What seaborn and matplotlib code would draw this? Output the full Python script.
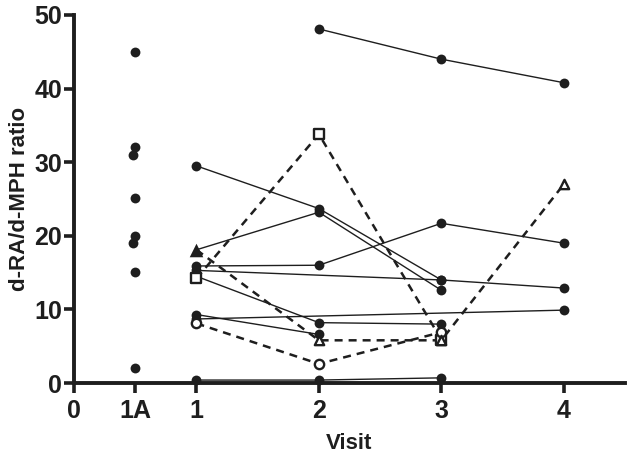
import numpy as np
import pandas as pd
import matplotlib
matplotlib.use("Agg")
import matplotlib.pyplot as plt
import seaborn as sns

# ==========================================
#   DATA
# ==========================================
visits = [1, 2, 3, 4]

# visit "1A" single measurements (x slightly jittered like the original)
v1a_x = [0.5, 0.5, 0.485, 0.5, 0.5, 0.485, 0.5, 0.5]
v1a_y = [45.0, 32.0, 31.0, 25.2, 20.0, 19.0, 15.1, 2.0]

# subjects followed over visits 1-4 (solid lines, filled circles)
subj_a = [np.nan, 48.1, 44.0, 40.8]
subj_b = [29.5, 23.7, 14.0, np.nan]
subj_c = [18.1, 23.2, 12.6, np.nan]   # first point drawn as filled triangle
subj_d = [15.9, 16.0, 21.7, 19.0]
subj_e = [15.3, np.nan, 14.0, 12.9]
subj_f = [14.5, 8.2, 8.0, np.nan]
subj_g = [9.3, 6.6, np.nan, np.nan]
subj_h = [8.7, np.nan, np.nan, 9.9]
subj_i = [0.4, 0.4, 0.7, np.nan]

# subjects with open symbols (dashed lines)
subj_sq = [14.2, 33.8, 5.9, np.nan]
subj_ci = [8.1, 2.6, 6.9, np.nan]
subj_tr = [18.1, 5.8, 5.8, 27.0]

x_ticks = [0, 0.5, 1, 2, 3, 4]
x_labels = ["0", "1A", "1", "2", "3", "4"]
y_ticks = [0, 10, 20, 30, 40, 50]

solid = {"a": subj_a, "b": subj_b, "c": subj_c, "d": subj_d, "e": subj_e,
         "f": subj_f, "g": subj_g, "h": subj_h, "i": subj_i}
dashed = {"sq": subj_sq, "ci": subj_ci, "tr": subj_tr}
open_marker = {"sq": "s", "ci": "o", "tr": "^"}

# ==========================================
#   STYLE
# ==========================================
sns.set_style("ticks")
plt.rcParams["font.family"] = ["Liberation Sans", "DejaVu Sans"]
plt.rcParams["font.weight"] = "bold"
INK = "#1e1e1e"


def to_long(groups):
    rows = []
    for name, vals in groups.items():
        for v, y in zip(visits, vals):
            rows.append({"subject": name, "visit": v, "ratio": y})
    return pd.DataFrame(rows).dropna()


df_solid = to_long(solid)
df_dashed = to_long(dashed)

fig = plt.figure(figsize=(6.3, 4.61), dpi=100)
ax = fig.add_axes([74 / 630, 1 - 383 / 461, (625 - 74) / 630, (383 - 15) / 461])

# lines
sns.lineplot(data=df_solid, x="visit", y="ratio", units="subject", estimator=None,
             color=INK, linewidth=1.0, ax=ax, legend=False, zorder=2)
sns.lineplot(data=df_dashed, x="visit", y="ratio", units="subject", estimator=None,
             color=INK, linewidth=1.8, ax=ax, legend=False, zorder=2,
             dashes=False)
for ln in ax.lines[len(solid):]:
    ln.set_dashes((3.2, 2.4))

# filled symbols
pts = df_solid.copy()
tri_mask = (pts["subject"] == "c") & (pts["visit"] == 1)
sns.scatterplot(data=pts[~tri_mask], x="visit", y="ratio", color=INK, s=50,
                edgecolor=INK, linewidth=0, ax=ax, zorder=4, clip_on=False)
sns.scatterplot(data=pts[tri_mask], x="visit", y="ratio", color=INK, marker="^",
                s=95, edgecolor=INK, linewidth=0, ax=ax, zorder=4, clip_on=False)

# open symbols
for name, vals in dashed.items():
    sub = df_dashed[df_dashed["subject"] == name]
    if name == "tr":
        sub = sub[sub["visit"] != 1]
    sns.scatterplot(data=sub, x="visit", y="ratio", marker=open_marker[name],
                    s=45, facecolor="white", edgecolor=INK, linewidth=1.7,
                    ax=ax, zorder=5, clip_on=False)

# visit 1A
sns.scatterplot(x=v1a_x, y=v1a_y, color=INK, s=50, linewidth=0, ax=ax,
                zorder=4, clip_on=False)

ax.set_xlim(0, 4.5)
ax.set_ylim(0, 50)
ax.set_xticks(x_ticks)
ax.set_xticklabels(x_labels)
ax.set_yticks(y_ticks)
ax.tick_params(axis="both", width=2.6, length=7.5, color=INK, labelsize=18,
               labelcolor=INK)
ax.tick_params(axis="y", pad=1)
ax.tick_params(axis="x", pad=4)
for lab in ax.get_xticklabels() + ax.get_yticklabels():
    lab.set_fontweight("bold")

ax.set_xlabel("Visit", fontsize=16, fontweight="bold", color=INK, labelpad=7)
ax.set_ylabel("d-RA/d-MPH ratio", fontsize=16, fontweight="bold", color=INK,
              labelpad=3)

for side in ["left", "bottom"]:
    ax.spines[side].set_linewidth(2.8)
    ax.spines[side].set_color(INK)
sns.despine(ax=ax)
ax.grid(False)

fig.savefig("out.png", dpi=100)
plt.close(fig)
